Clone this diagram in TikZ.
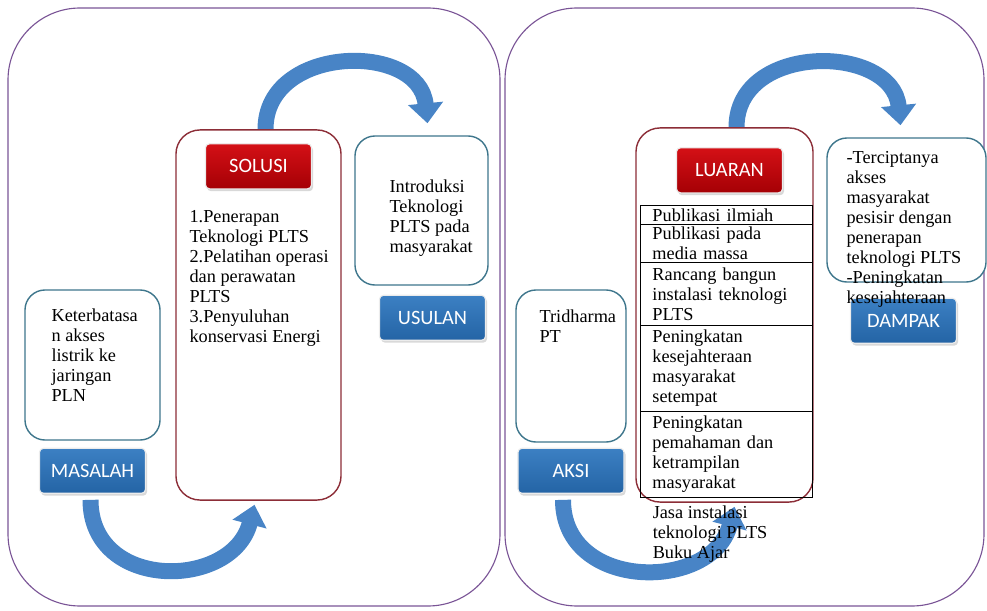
\documentclass[tikz,border=0pt]{standalone}
\usepackage{fontspec}
\setmainfont{Liberation Serif}
\newfontfamily\tagfont{Carlito}
\usetikzlibrary{positioning,shadows,arrows.meta,backgrounds}

\definecolor{panelpurple}{RGB}{122,84,150}
\definecolor{boxteal}{RGB}{62,118,140}
\definecolor{boxred}{RGB}{140,45,55}
\definecolor{arrowblue}{RGB}{72,132,198}
\definecolor{tagbluetop}{RGB}{60,128,195}
\definecolor{tagbluebot}{RGB}{36,100,165}
\definecolor{tagredtop}{RGB}{212,16,22}
\definecolor{tagredbot}{RGB}{165,0,5}

\begin{document}
\begin{tikzpicture}
    [x=0.025cm, y=-0.025cm,
     font=\fontsize{13}{14.2}\selectfont,
     panel/.style={draw=panelpurple, line width=0.8pt, rounded corners=1.8cm},
     whitebox/.style={draw=boxteal, line width=1pt, fill=white, rounded corners=0.5cm},
     redbox/.style={draw=boxred, line width=1pt, fill=white, rounded corners=0.6cm},
     tag/.style={rounded corners=0.1cm, text=white, draw=gray!15, line width=0.8pt,
        font=\tagfont\fontsize{14.5}{16}\selectfont,
        minimum width=2.65cm, minimum height=1.125cm,
        drop shadow={opacity=0.3, shadow xshift=0.04cm, shadow yshift=-0.06cm}},
     bluetag/.style={tag, top color=tagbluetop, bottom color=tagbluebot},
     redtag/.style={tag, top color=tagredtop, bottom color=tagredbot},
     words/.style={anchor=north west, inner sep=0pt, align=left},
     cell/.style={draw, line width=0.6pt, outer sep=0pt, minimum height=#1,
        text width=3.7cm, inner xsep=0.3cm, inner ysep=0pt, align=left},
     bigarrow/.style={draw=arrowblue, line width=0.4cm, -{Triangle[width=0.85cm,length=0.5cm]}}]
\useasboundingbox (0,0) rectangle (987,611);
% the two panels
\draw[panel] (8,8) rectangle (500,606);
\draw[panel] (505,8) rectangle (984,606);
% boxes
\path
    (92.5,365) node [whitebox,minimum width=3.375cm,minimum height=3.75cm] (ker) {}
    (258.5,315) node [redbox,minimum width=4.125cm,minimum height=9.25cm] (solbox) {}
    (421.5,210.5) node [whitebox,minimum width=3.325cm,minimum height=3.725cm] (intro) {}
    (571,366) node [whitebox,minimum width=2.75cm,minimum height=3.8cm] (tri) {}
    (724.5,315) node [redbox,minimum width=4.425cm,minimum height=9.35cm] (lubox) {}
    (906.5,210) node [whitebox,minimum width=3.975cm,minimum height=3.6cm] (dampak) {};
% tags
\node [bluetag,below=0.175cm of ker] (masalah) {MASALAH};
\node [redtag,below=0.35cm of solbox.north] (solusi) {SOLUSI};
\node [bluetag,below=0.225cm of intro,xshift=0.275cm] (usulan) {USULAN};
\node [bluetag,below=0.125cm of tri] (aksi) {AKSI};
\node [redtag,below=0.5cm of lubox.north,xshift=0.125cm] (luaran) {LUARAN};
\node [bluetag,below=0.375cm of dampak,xshift=-0.075cm] (dampaktag) {DAMPAK};
% texts
\node [words] (kertext) at ([xshift=0.675cm,yshift=-0.475cm]ker.north west)
    {Keterbatasa\\n akses\\listrik ke\\jaringan\\PLN};
\node [words] (soltext) at ([xshift=0.35cm,yshift=-2.025cm]solbox.north west)
    {1.Penerapan\\Teknologi PLTS\\2.Pelatihan operasi\\dan perawatan\\PLTS\\3.Penyuluhan\\konservasi Energi};
\node [words] (introtext) at ([xshift=0.875cm,yshift=-1.1cm]intro.north west)
    {Introduksi\\Teknologi\\PLTS pada\\masyarakat};
\node [words] (tritext) at ([xshift=0.6cm,yshift=-0.5cm]tri.north west) {Tridharma\\PT};
\node [words] (damtext) at ([xshift=0.5cm,yshift=-0.35cm]dampak.north west)
    {-Terciptanya\\akses\\masyarakat\\pesisir dengan\\penerapan\\teknologi PLTS\\-Peningkatan\\kesejahteraan};
% luaran table
\node [cell=0.475cm,below=0.3cm of luaran,xshift=-0.075cm] (pub) {Publikasi ilmiah};
\node [cell=0.95cm,below=0pt of pub] (media) {Publikasi pada\\media massa};
\node [cell=1.575cm,below=0pt of media] (rancang) {Rancang bangun\\instalasi teknologi\\PLTS};
\node [cell=2.15cm,below=0pt of rancang] (sejahtera) {Peningkatan\\kesejahteraan\\masyarakat\\setempat};
\node [cell=2.15cm,below=0pt of sejahtera] (paham) {Peningkatan\\pemahaman dan\\ketrampilan\\masyarakat};
\node [words] (jasa) at ([xshift=0.3cm,yshift=-0.2cm]paham.south west)
    {Jasa instalasi\\teknologi PLTS\\Buku Ajar};
% curved arrows
\begin{scope}[on background layer]
\draw [bigarrow] ([xshift=0.175cm]solbox.north)
    .. controls +(0,-85) and +(-8,-82) .. ([xshift=0.15cm,yshift=0.3cm]intro.north);
\draw [bigarrow] ([xshift=-0.05cm,yshift=-0.15cm]masalah.south)
    .. controls +(0,92) and +(-22,85) .. ([xshift=-0.1cm,yshift=-0.1cm]solbox.south);
\draw [bigarrow] ([xshift=-0.2cm,yshift=-0.15cm]aksi.south)
    .. controls +(0,92) and +(-22,85) .. ([xshift=0.25cm,yshift=-0.1cm]lubox.south);
\draw [bigarrow] ([xshift=0.3cm]lubox.north)
    .. controls +(0,-85) and +(-8,-82) .. ([xshift=-0.15cm,yshift=0.3cm]dampak.north);
\end{scope}
\end{tikzpicture}
\end{document}
